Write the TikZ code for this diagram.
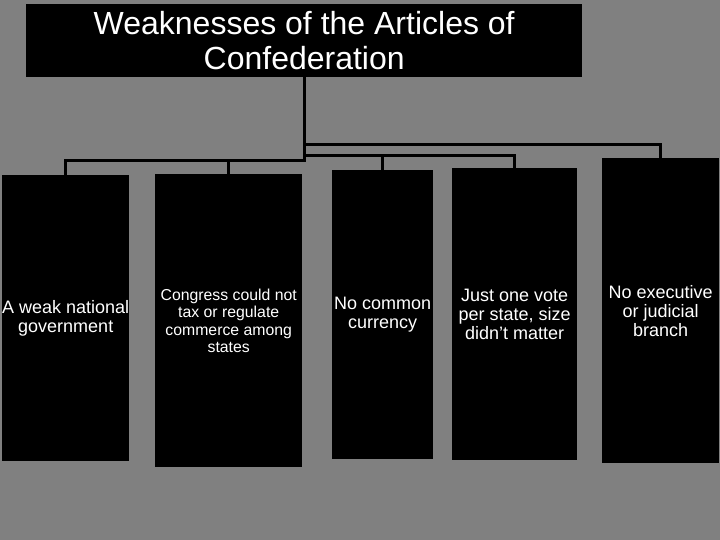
\documentclass[tikz,border=0pt]{standalone}
\usepackage{fontspec}
\setmainfont{Liberation Sans}
\definecolor{bggray}{RGB}{128,128,128}
\begin{document}
\begin{tikzpicture}[x=1pt,y=-1pt,
  box/.style={draw=none,fill=black,text=white,inner sep=0pt,align=center,anchor=north west},
  big/.style={font=\fontsize{18}{19}\selectfont},
  small/.style={font=\fontsize{15.8}{17.5}\selectfont},
  conn/.style={draw=black,line width=3pt}]
\fill[bggray] (0,0) rectangle (720,540);
\useasboundingbox (0,0) rectangle (720,540);
\node[box,minimum width=556pt,minimum height=73pt,font=\fontsize{32}{35}\selectfont] (title) at (26,4) {Weaknesses of the Articles of\\Confederation};
\node[box,big,minimum width=127pt,minimum height=286pt] (b1) at (2,175) {A weak national\\government};
\node[box,small,minimum width=147pt,minimum height=293pt] (b2) at (155,174) {Congress could not\\tax or regulate\\commerce among\\states};
\node[box,big,minimum width=101pt,minimum height=289pt] (b3) at (332,170) {No common\\currency};
\node[box,big,minimum width=125pt,minimum height=292pt] (b4) at (452,168) {Just one vote\\per state, size\\didn’t matter};
\node[box,big,minimum width=117pt,minimum height=305pt] (b5) at (602,158) {No executive\\or judicial\\branch};
\draw[conn] (title.south) -- (title.south |- 0,162);
\draw[conn] (title.south |- 0,145) -| (b5.north);
\draw[conn] (title.south |- 0,156) -| (b4.north);
\draw[conn] (b3.north |- 0,156) -- (b3.north);
\draw[conn] (title.south |- 0,161) -| (b1.north);
\draw[conn] (b2.north |- 0,161) -- (b2.north);
\end{tikzpicture}
\end{document}
